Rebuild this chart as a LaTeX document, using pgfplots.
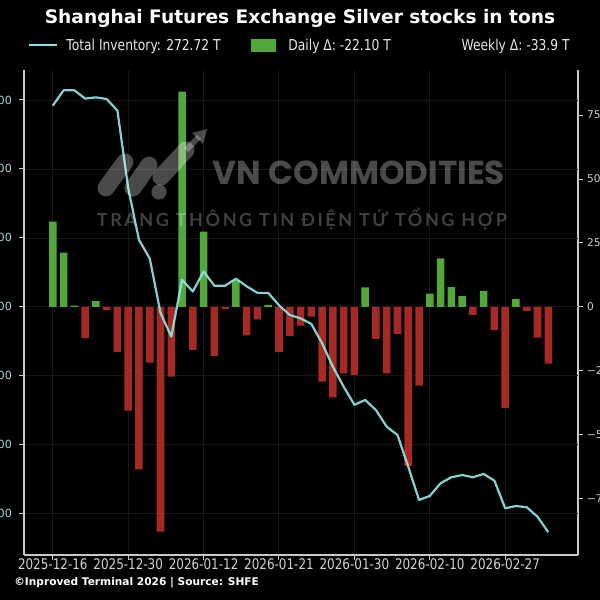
\documentclass[border=0pt]{standalone}
\usepackage{fontspec}
\setmainfont{DejaVu Sans}
\newfontfamily\condfont{DejaVu Sans}[FakeStretch=0.82]
\newfontfamily\wmfont{Poppins}
\newfontfamily\vnfont{Lato}[LetterSpace=14]
\usepackage{graphicx}
\usepackage{pgfplots}
\pgfplotsset{compat=1.18}
\definecolor{upgreen}{HTML}{52A83A}
\definecolor{downred}{HTML}{A52A23}
\definecolor{linecyan}{HTML}{8FE3E3}
\definecolor{axisgray}{HTML}{C8C8C8}
\definecolor{gridc}{HTML}{161616}
\definecolor{leftlab}{HTML}{A6D6D6}
\definecolor{rightlab}{HTML}{D2D2D2}
\definecolor{legtext}{HTML}{E8E8E8}
\begin{document}
\begin{tikzpicture}
\fill[black] (0,0) rectangle (300pt,300pt);
% bars (right axis) with bottom x axis and grid
\begin{axis}[
  at={(12pt,22.5pt)}, anchor=south west, scale only axis,
  width=277pt, height=242.5pt,
  xmin=-2.674, xmax=48.76, ymin=-96.9, ymax=92.6,
  axis x line*=bottom, axis y line*=right,
  axis line style={draw=axisgray, line width=0.6pt, -},
  tick style={draw=axisgray, line width=0.5pt},
  major tick length=2.5pt, tick align=outside,
  xtick={0,7,14,21,28,35,42},
  xticklabels={2025-12-16,2025-12-30,2026-01-12,2026-01-21,2026-01-30,2026-02-10,2026-02-27},
  xticklabel style={font=\condfont\fontsize{7.3pt}{8pt}\selectfont, text=rightlab, yshift=4pt},
  ytick={-75,-50,-25,0,25,50,75},
  yticklabels={−75,−50,−25,0,25,50,75},
  yticklabel style={font=\fontsize{5.3pt}{6pt}\selectfont, text=rightlab, xshift=-1.5pt},
  xmajorgrids, major grid style={draw=gridc, line width=0.5pt},
  extra y ticks={-80.74,-53.83,-26.91,0,26.91,53.83,80.74},
  extra y tick labels={},
  extra y tick style={ymajorgrids=true, major tick length=0pt},
]
\addplot[ybar, bar width=0.7, bar shift=0pt, fill=upgreen, draw=none] coordinates {
(0,33.3) (1,21.2) (2,0.5) (4,2.3) (12,84.1) (14,29.4) (17,10.5) (20,0.8)
(29,7.7) (35,5.2) (36,19.0) (37,7.8) (38,4.2) (40,6.3) (43,3.1)
};
\addplot[ybar, bar width=0.7, bar shift=0pt, fill=downred, draw=none] coordinates {
(3,-12.2) (5,-1.2) (6,-17.5) (7,-40.5) (8,-63.4) (9,-21.7) (10,-87.8) (11,-27.2)
(13,-16.8) (15,-19.1) (16,-0.7) (18,-11.1) (19,-4.8) (21,-17.5) (22,-11.3)
(23,-7.3) (24,-3.8) (25,-29.2) (26,-35.3) (27,-25.9) (28,-26.6) (30,-12.5)
(31,-25.9) (32,-10.5) (33,-62.1) (34,-30.7) (39,-3.1) (41,-9.0) (42,-39.5)
(44,-1.5) (45,-12.0) (46,-22.1)
};
\end{axis}
% inventory line (left axis)
\begin{axis}[
  at={(12pt,22.5pt)}, anchor=south west, scale only axis,
  width=277pt, height=242.5pt,
  xmin=-2.674, xmax=48.76, ymin=239.6, ymax=943.5,
  hide x axis, axis y line*=left,
  axis line style={draw=axisgray, line width=0.6pt, -},
  tick style={draw=axisgray, line width=0.5pt},
  major tick length=2.5pt, tick align=outside,
  ytick={300,400,500,600,700,800,900},
  yticklabels={300,400,500,600,700,800,900},
  yticklabel style={font=\fontsize{5.6pt}{6pt}\selectfont, text=leftlab},
]
\addplot[linecyan, line width=1.1pt, no marks, line join=round, opacity=0.92] coordinates {
(0,891.7) (1,914) (2,914) (3,902) (4,903.8) (5,901.4) (6,884.5) (7,772)
(8,697) (9,670) (10,591) (11,556.5) (12,639) (13,622) (14,651) (15,630.5)
(16,630.5) (17,640.6) (18,629.5) (19,620) (20,620) (21,602) (22,588) (23,583)
(24,575) (25,547) (26,513) (27,484) (28,457.6) (29,464.6) (30,450) (31,425.8)
(32,413.8) (33,367.8) (34,319.5) (35,325.3) (36,343.7) (37,352.4) (38,355.7)
(39,352.4) (40,357.2) (41,347.5) (42,307.4) (43,310.7) (44,308.9) (45,295.2)
(46,272.72)
};
\end{axis}
% annotations in pixel coordinates
\begin{scope}[x=0.5pt, y=-0.5pt, yshift=300pt]
\node[anchor=base, font=\bfseries\fontsize{9.3pt}{11pt}\selectfont, text=white, inner sep=0] at (300,23.7) {Shanghai Futures Exchange Silver stocks in tons};
\draw[linecyan, line width=1.1pt] (29,45) -- (57,45);
\node[anchor=base west, font=\condfont\fontsize{7.5pt}{9pt}\selectfont, text=legtext, inner sep=0] at (66,50.5) {Total Inventory: 272.72 T};
\fill[upgreen] (251.4,39) rectangle (276.3,51.7);
\node[anchor=base west, font=\condfont\fontsize{7.5pt}{9pt}\selectfont, text=legtext, inner sep=0] at (288,50.5) {Daily Δ: -22.10 T};
\node[anchor=base east, font=\condfont\fontsize{7.5pt}{9pt}\selectfont, text=legtext, inner sep=0] at (570,50.5) {Weekly Δ: -33.9 T};
\node[anchor=base west, font=\bfseries\fontsize{5.3pt}{6pt}\selectfont, text=white, inner sep=0] at (14,585.2) {©Inproved Terminal 2026 | Source: SHFE};
% watermark
\node[text=white, opacity=0.29, inner sep=0] at (359,173) {\resizebox{146pt}{11.8pt}{\wmfont\bfseries VN COMMODITIES}};
\node[text=white, opacity=0.25, inner sep=0] at (302,218.5) {\resizebox{205pt}{!}{\vnfont\bfseries TRANG THÔNG TIN ĐIỆN TỬ TỔNG HỢP}};
\begin{scope}[white, opacity=0.29, line cap=round, line width=8.5pt]
\draw (106,188) -- (125,162);
\draw (133,188) -- (149,165);
\fill (159,192) circle (3.8pt);
\draw (161,177) -- (186,150);
\end{scope}
\begin{scope}[white, opacity=0.29]
\draw[line width=3pt] (186,150) -- (199,137);
\fill (207,129) -- (192,133) -- (203,144) -- cycle;
\end{scope}
\end{scope}
\pgfresetboundingbox
\path[use as bounding box] (0,0) rectangle (300pt,300pt);
\end{tikzpicture}
\end{document}
